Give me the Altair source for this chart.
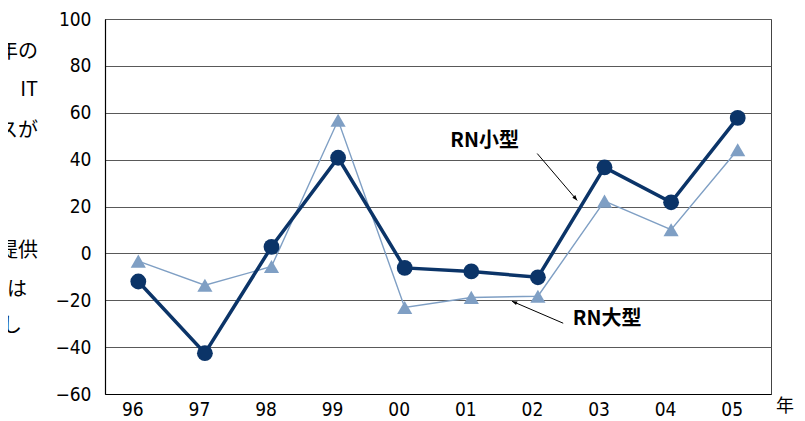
import json
import altair as alt
import pandas as pd

# ---- data ----
years = ["96", "97", "98", "99", "00", "01", "02", "03", "04", "05"]
rn_small = [-12.0, -42.6, 2.8, 40.8, -6.2, -7.7, -10.2, 36.7, 21.8, 57.8]
rn_large = [-3.3, -13.6, -5.6, 56.8, -23.1, -18.8, -18.3, 22.3, 10.1, 44.2]

y_ticks = [-60, -40, -20, 0, 20, 40, 60, 80, 100]

# annotation positions (data coordinates: x = year index, y = value)
ann_labels = ["RN小型", "RN大型"]
ann_text_x = [5.2, 7.04]
ann_text_y = [47.9, -28.1]
arrow_x1 = [5.99, 6.38]
arrow_y1 = [42.6, -29.8]
arrow_x2 = [6.59, 5.61]
arrow_y2 = [22.6, -20.4]
arrow_angle = [140, 293]

# cropped text fragments from the neighbouring page (left edge)
frag_text = ["年の", "IT", "スが", "提供", "は", "し"]
frag_x = [-67, -67, -67, -67, -78, -83]
frag_y = [33, 71, 112, 232, 271, 307]

NAVY = "#0B3468"
LIGHT = "#7F9FC4"
NUMFONT = "Liberation Sans Narrow, DejaVu Sans Condensed, sans-serif"
JPFONT = "Noto Sans CJK JP"

idx = list(range(len(years)))
df = pd.DataFrame({"i": idx, "year": years, "small": rn_small, "large": rn_large})
ann = pd.DataFrame({
    "label": ann_labels, "tx": ann_text_x, "ty": ann_text_y,
    "x1": arrow_x1, "y1": arrow_y1, "x2": arrow_x2, "y2": arrow_y2,
    "ang": arrow_angle,
})
frag = pd.DataFrame({"t": frag_text, "fx": frag_x, "fy": frag_y})

label_expr = json.dumps(years) + "[datum.value]"

xscale = alt.Scale(domain=[-0.5, 9.5], nice=False, zero=False)
yscale = alt.Scale(domain=[-60, 100], nice=False)

x_axis = alt.Axis(
    values=idx, labelExpr=label_expr, title=None, ticks=False, grid=False,
    labelFont=NUMFONT, labelFontSize=19, labelColor="#000", labelPadding=6,
    labelOffset=-6, domainColor="#000", domainWidth=1.2,
)
y_axis = alt.Axis(
    values=y_ticks, title=None, ticks=False, grid=True, gridColor="#595959",
    gridWidth=1, labelFont=NUMFONT, labelFontSize=19, labelColor="#000",
    labelPadding=14, domainColor="#000", domainWidth=1.2,
)

base = alt.Chart(df)

large_line = base.mark_line(color=LIGHT, strokeWidth=1.4).encode(
    x=alt.X("i:Q", scale=xscale, axis=x_axis),
    y=alt.Y("large:Q", scale=yscale, axis=y_axis),
)
large_pts = base.mark_point(shape="triangle-up", filled=True, size=230,
                            color=LIGHT, opacity=1).encode(
    x=alt.X("i:Q", scale=xscale), y=alt.Y("large:Q", scale=yscale)
)
small_line = base.mark_line(color=NAVY, strokeWidth=3.5).encode(
    x=alt.X("i:Q", scale=xscale), y=alt.Y("small:Q", scale=yscale)
)
small_pts = base.mark_point(shape="circle", filled=True, size=250,
                            color=NAVY, opacity=1).encode(
    x=alt.X("i:Q", scale=xscale), y=alt.Y("small:Q", scale=yscale)
)

abase = alt.Chart(ann)
arrows = abase.mark_rule(color="#000", strokeWidth=1).encode(
    x=alt.X("x1:Q", scale=xscale), y=alt.Y("y1:Q", scale=yscale),
    x2="x2:Q", y2="y2:Q",
)
heads = abase.mark_point(
    shape="M0,0L-0.38,1L0.38,1Z", filled=True, size=110, color="#000", opacity=1
).encode(
    x=alt.X("x2:Q", scale=xscale), y=alt.Y("y2:Q", scale=yscale),
    angle=alt.Angle("ang:Q", scale=None),
)
ann_text = abase.mark_text(font=JPFONT, fontSize=20, fontWeight="bold",
                           color="#000").encode(
    x=alt.X("tx:Q", scale=xscale), y=alt.Y("ty:Q", scale=yscale),
    text="label:N",
)

# positions for fragments are in pixel space of the plot
frags = alt.Chart(frag).mark_text(font=JPFONT, fontSize=20, color="#000",
                                  align="right", baseline="middle").encode(
    x=alt.X("fx:Q", scale=None), y=alt.Y("fy:Q", scale=None), text="t:N"
)

nen = alt.Chart(pd.DataFrame({"t": ["年"]})).mark_text(
    font=JPFONT, fontSize=18, color="#000", align="center", baseline="middle"
).encode(x=alt.value(680), y=alt.value(388), text="t:N")

chart = alt.layer(
    large_line, large_pts, small_line, small_pts, arrows, heads, ann_text,
    frags, nen,
).properties(
    width=666, height=375,
    autosize="none",
    padding={"left": 97, "top": 11, "right": 26, "bottom": 30},
    background="#ffffff",
).configure_view(stroke="#444", strokeWidth=1)

chart.save("out.html", embed_options={"renderer": "svg", "actions": False})
